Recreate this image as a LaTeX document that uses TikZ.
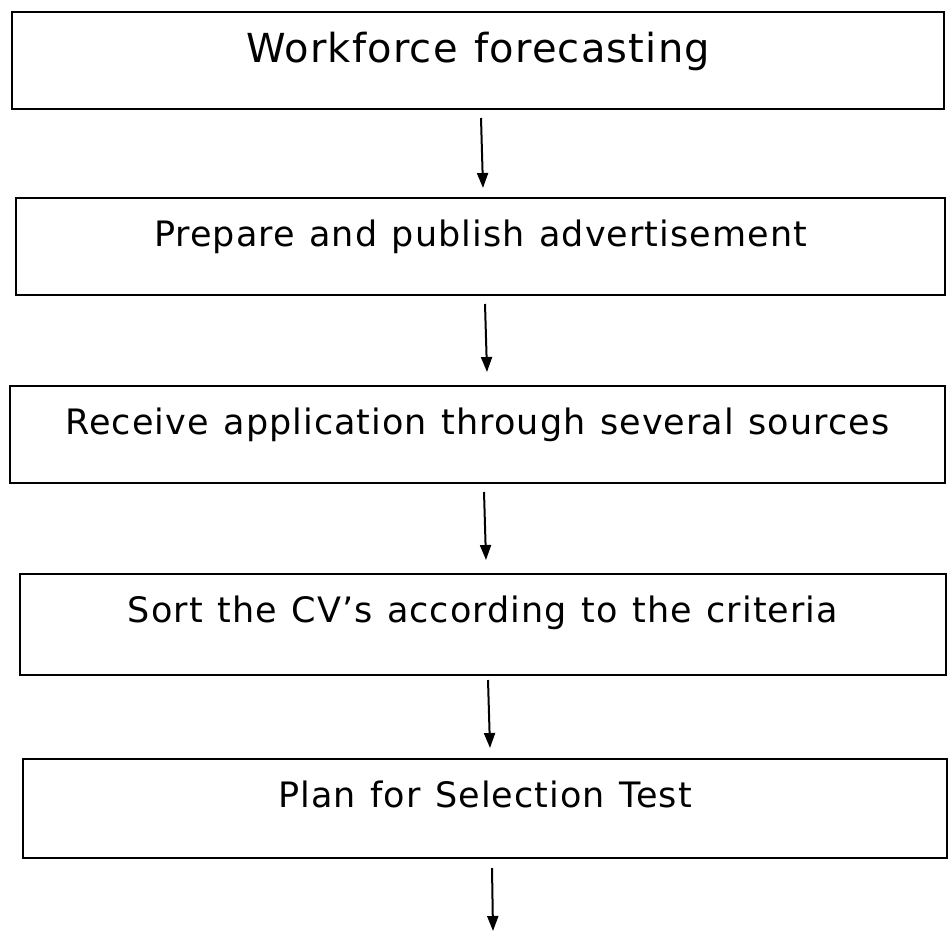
\documentclass[tikz,border=0pt]{standalone}
\usepackage{fontspec}
\setmainfont{DejaVu Sans}[LetterSpace=3, WordSpace=1.2]
\usetikzlibrary{positioning,arrows.meta}
\tikzset{
  stage/.style={draw, line width=2pt, anchor=north west, inner sep=0pt, align=center, font=\fontsize{35}{40}\selectfont, text height=48pt},
  flow/.style={-{Triangle[length=15pt,width=11pt]}, line width=2pt}
}
\begin{document}
\begin{tikzpicture}[x=1pt, y=-1pt]
  \useasboundingbox (0,0) rectangle (949,933);
  \node[stage, minimum width=932pt, text height=51pt, text depth=46pt, font=\fontsize{40}{46}\selectfont] (plan) at (11,11) {Workforce forecasting};
  \node[stage, minimum width=929pt, text depth=49pt] (advert) at (15,197) {Prepare and publish advertisement};
  \node[stage, minimum width=935pt, text depth=49pt] (apply) at (9,385) {Receive application through several sources};
  \node[stage, minimum width=926pt, text depth=53pt] (sort) at (19,573) {Sort the CV's according to the criteria};
  \node[stage, minimum width=924pt, text depth=51pt] (test) at (22,758) {Plan for Selection Test};
  \coordinate (next) at (493,931);
  \draw[flow] ([xshift=3pt,yshift=-8pt]plan.south) -- ([xshift=2.5pt,yshift=9pt]advert.north);
  \draw[flow] ([xshift=4.5pt,yshift=-8pt]advert.south) -- ([xshift=9.5pt,yshift=13pt]apply.north);
  \draw[flow] ([xshift=6.5pt,yshift=-8pt]apply.south) -- ([xshift=3pt,yshift=13pt]sort.north);
  \draw[flow] ([xshift=5pt,yshift=-4pt]sort.south) -- ([xshift=5pt,yshift=10pt]test.north);
  \draw[flow] ([xshift=7pt,yshift=-9pt]test.south) -- (next);
\end{tikzpicture}
\end{document}
